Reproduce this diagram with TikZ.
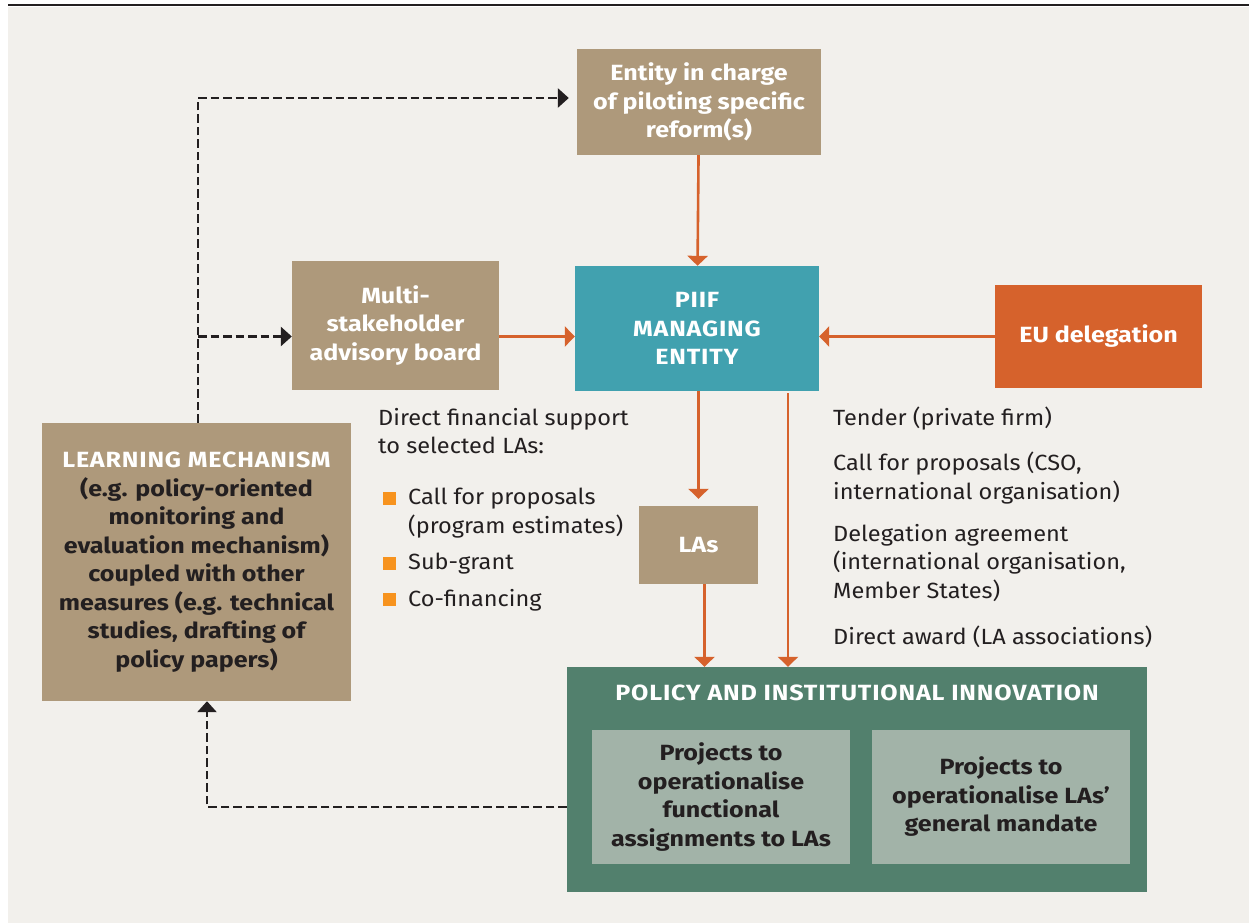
\documentclass[tikz,border=0pt]{standalone}
\usepackage{fontspec}
\setmainfont{Fira Sans}[FakeStretch=1.07,BoldFeatures={FakeStretch=1.14}]
\usetikzlibrary{arrows.meta}
\definecolor{bgbeige}{HTML}{F2F0EC}
\definecolor{tan}{HTML}{AE997B}
\definecolor{teal}{HTML}{41A1AF}
\definecolor{eorange}{HTML}{D6622C}
\definecolor{green}{HTML}{52806D}
\definecolor{sage}{HTML}{A2B3A8}
\definecolor{dark}{HTML}{231F20}
\definecolor{bullet}{HTML}{F7931E}
\newcommand{\boxfont}{\fontsize{22}{28.5}\selectfont}
\newcommand{\caps}{\addfontfeatures{LetterSpace=3.7}}

\begin{document}
\begin{tikzpicture}[x=1pt,y=1pt]
	\tikzstyle{every node}+=[inner sep=0pt]
	\tikzstyle{box}=[rectangle, align=center, font=\boxfont\bfseries, text=white]
	\tikzstyle{plain}=[anchor=north west, align=left, text=dark, font=\boxfont]
	\tikzstyle{bulletbox}=[fill=bullet, minimum size=13pt]
	\tikzstyle{flow}=[draw=eorange, line width=2.6pt, -{Triangle[width=20pt,length=10pt]}]
	\tikzstyle{fback}=[draw=dark, line width=2.9pt, dash pattern=on 8.5pt off 4pt, -{Triangle[width=19pt,length=11pt]}]
	\useasboundingbox (0,0) rectangle (1249,-923);
	\fill [white] (0,0) rectangle (1249,-923);
	\fill [bgbeige] (8,-7) rectangle (1249,-923);
	\draw [dark, line width=2.5pt] (8,-5) -- (1249,-5);
	\node [box, fill=tan, minimum width=244pt, minimum height=106pt] (ent) at (699,-102) {Entity in charge\\of piloting specific\\reform(s)};
	\node [box, fill=teal, minimum width=244pt, minimum height=125pt] (piif) at (697,-328.5) {\caps PIIF\\\caps MANAGING\\\caps ENTITY};
	\node [box, fill=tan, minimum width=207pt, minimum height=129pt] (multi) at (395.5,-325.5) {Multi-\\stakeholder\\advisory board};
	\node [box, fill=eorange, minimum width=207pt, minimum height=103pt] (eu) at (1098.5,-336.5) {EU delegation};
	\node [box, fill=tan, minimum width=119pt, minimum height=78pt] (las) at (698.5,-545) {LAs};
	\node [box, fill=tan, text=dark, minimum width=309pt, minimum height=278pt] (learn) at (196.5,-562) {\textcolor{white}{\caps LEARNING MECHANISM}\\(e.g. policy-oriented\\monitoring and\\evaluation mechanism)\\coupled with other\\measures (e.g. technical\\studies, drafting of\\policy papers)};
	\node [box, fill=green, minimum width=580pt, minimum height=225pt] (pol) at (857,-779.5) {};
	\node [box] (poltitle) at (857,-693) {\caps POLICY AND INSTITUTIONAL INNOVATION};
	\node [box, fill=sage, text=dark, minimum width=258pt, minimum height=134pt] (proj1) at (721,-797) {Projects to\\operationalise\\functional\\assignments to LAs};
	\node [box, fill=sage, text=dark, minimum width=258pt, minimum height=134pt] (proj2) at (1001,-797) {Projects to\\operationalise LAs’\\general mandate};
	\node [plain] (direct) at (378,-408) {Direct financial support\\to selected LAs:};
	\node [bulletbox] (b1) at (389.5,-498) {};
	\node [bulletbox] (b2) at (389.5,-563) {};
	\node [bulletbox] (b3) at (389.5,-599) {};
	\node [plain] (call) at (408,-488) {Call for proposals\\(program estimates)};
	\node [plain] (sub) at (408,-553) {Sub-grant};
	\node [plain] (cofin) at (408,-589) {Co-financing};
	\node [plain] (tender) at (833,-407) {Tender (private firm)};
	\node [plain] (cfp) at (833,-452) {Call for proposals (CSO,\\international organisation)};
	\node [plain] (deleg) at (833,-524) {Delegation agreement\\(international organisation,\\Member States)};
	\node [plain] (award) at (833,-626) {Direct award (LA associations)};
	\coordinate (fb) at (207,-807);
	\coordinate (top) at (198,-98);
	\draw [flow] (ent) -- (piif);
	\draw [flow] (multi.east |- eu) -- (piif.west |- eu);
	\draw [flow] (eu) -- (piif.east |- eu);
	\draw [flow, shorten >=7pt] (las.north |- piif.south) -- (las.north);
	\draw [flow] ([xshift=6pt]las.south) -- ([xshift=6pt]las.south |- pol.north);
	\draw [flow] ([xshift=91pt,yshift=-2pt]piif.south) -- ([xshift=91pt]piif.south |- pol.north);
	\draw [fback, shorten >=8pt] (top |- learn.north) -- (top) -- (ent.west |- top);
	\draw [fback] (top |- eu) -- (multi.west |- eu);
	\draw [fback] (pol.west |- fb) -- (fb) -- (learn.south -| fb);
\end{tikzpicture}
\end{document}
